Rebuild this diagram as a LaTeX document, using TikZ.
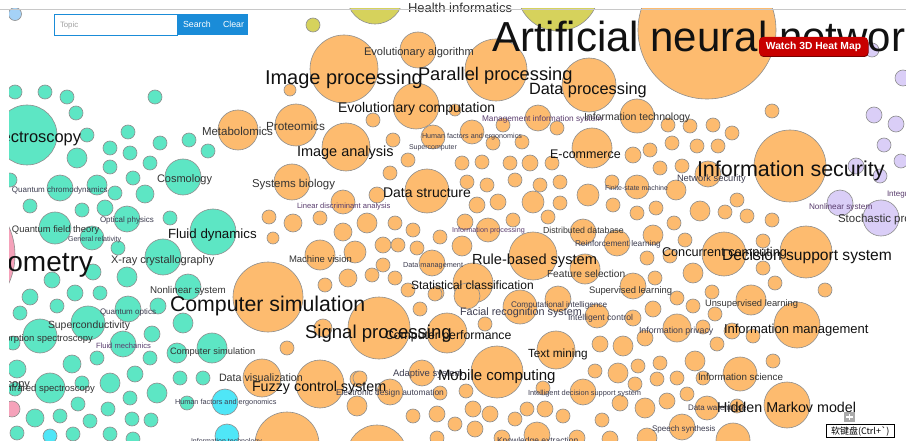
\documentclass[tikz,border=0pt]{standalone}
\usepackage{fontspec}
\setmainfont{Liberation Sans}
\newfontfamily\cjk{Noto Sans CJK SC}
\newcommand\myfs[1]{\fontsize{#1}{#1}\selectfont}
\definecolor{orng}{HTML}{FDBB6F}
\definecolor{tealc}{HTML}{5DE6C4}
\definecolor{yelc}{HTML}{D6D25C}
\definecolor{lavc}{HTML}{DACEF7}
\definecolor{pinkc}{HTML}{F5A2BA}
\definecolor{cyanc}{HTML}{4FE6F7}
\definecolor{bluec}{HTML}{A5D2F7}
\definecolor{strk}{HTML}{8E8E8E}
\definecolor{btnblue}{HTML}{1A8CD8}
\definecolor{btnred}{HTML}{C80000}
\definecolor{btnshadow}{HTML}{780000}
\definecolor{ruleg}{HTML}{C8C8C8}
\definecolor{placeg}{HTML}{A0A0A0}
\definecolor{plusg}{HTML}{AAAAAA}
\definecolor{tblack}{HTML}{111111}
\definecolor{tgray}{HTML}{333333}
\definecolor{tsmall}{HTML}{3D3D50}
\definecolor{tpurp}{HTML}{5A3D6E}
\tikzset{
  bub/.style={draw=strk, line width=0.6pt},
  lb/.style={anchor=base west, inner sep=0pt, outer sep=0pt},
  lr/.style={anchor=base east, inner sep=0pt, outer sep=0pt},
}
\newcommand\mylab[6]{\node[lb, text=#5, font=\myfs{#4}] (#1) at (#2,#3) {#6};}
\newcommand\mylabr[6]{\node[lr, text=#5, font=\myfs{#4}] (#1) at (#2,#3) {#6};}
\begin{document}
\begin{tikzpicture}[x=1pt,y=-1pt]
\useasboundingbox (0,0) rectangle (906,441);
\fill[white] (0,0) rectangle (906,441);
\begin{scope}
\clip (9,9) rectangle (906,441);
% yellow
\foreach \a/\b/\r in {375/-4/28, 558/-10/41, 313/25/7}
  \draw[bub, fill=yelc] (\a,\b) circle[radius={\r*1pt}];
% light blue
\draw[bub, fill=bluec] (15,14) circle[radius=6.5pt];
% pink
\foreach \a/\b/\r in {-53/255/68, 12/409/8}
  \draw[bub, fill=pinkc] (\a,\b) circle[radius={\r*1pt}];
% cyan
\foreach \a/\b/\r in {225/402/13, 227/436/12, 50/436/7}
  \draw[bub, fill=cyanc] (\a,\b) circle[radius={\r*1pt}];
% lavender
\foreach \a/\b/\r in {872/50/7, 903/78/8, 874/115/8, 896/124/8, 884/145/7, 901/161/7,
  856/166/8, 880/176/7, 840/203/13, 881/218/18}
  \draw[bub, fill=lavc] (\a,\b) circle[radius={\r*1pt}];
% teal
\foreach \a/\b/\r in {27/135/30, 183/177/18, 213/232/23, 163/257/18, 55/228/16, 127/219/13,
  92/238/12, 60/188/13, 188/287/13, 88/323/17, 40/336/17, 212/348/15, 128/309/13, 123/344/13,
  50/388/15, 183/323/10, 177/353/10, 110/383/10, 157/393/10, 127/277/10, 97/185/10, 77/158/10,
  15/92/7, 45/92/7, 67/97/7, 76/113/7, 155/97/7, 87/135/7, 128/132/7, 110/148/7, 160/143/7,
  189/140/7, 208/151/7, 130/153/7, 150/163/7, 110/167/7, 133/178/7, 115/193/7, 145/194/9,
  30/206/7, 82/210/7, 105/208/8, 170/218/7, 118/248/7, 93/272/8, 52/280/8, 75/293/8, 100/293/7,
  30/297/8, 10/180/7, 57/306/7, 20/313/7, 158/306/8, 152/334/8, 13/343/7, 97/358/7, 150/358/7,
  17/369/9, 72/364/9, 135/374/8, 180/378/7, 203/378/7, 82/383/7, 15/389/7, 130/398/7, 78/404/7,
  108/409/7, 60/416/7, 35/418/9, 90/421/7, 132/419/7, 151/420/7, 187/403/7, 17/433/7, 73/434/7,
  110/434/7, 133/439/7}
  \draw[bub, fill=tealc] (\a,\b) circle[radius={\r*1pt}];
% orange big
\foreach \a/\b/\r in {707/30/69, 344/69/34, 418/50/18, 496/70/31, 589/85/27, 416/106/23,
  238/130/20, 296/125/21, 346/147/24, 292/182/18, 427/191/22, 637/116/17, 592/148/20,
  790/166/36, 806/252/26, 724/254/22, 533/256/24, 473/283/20, 268/297/35, 379/328/31,
  447/333/20, 497/372/26, 556/350/19, 320/384/24, 262/378/19, 287/444/32, 377/455/30,
  787/405/23, 797/325/23, 740/374/17, 751/300/15, 677/328/14, 682/427/13, 733/440/17,
  320/255/15, 583/232/13, 617/243/13, 520/307/17, 708/174/13, 637/187/12, 422/373/13,
  390/392/13, 585/269/15, 633/286/13, 538/118/13, 433/137/12, 472/132/12, 488/230/12,
  432/263/13, 343/202/12, 355/252/11, 533/202/11, 588/195/11, 467/296/13, 558/299/13,
  597/316/12, 583/392/13, 537/435/13, 707/408/12, 676/190/10, 700/211/10, 653/235/10,
  693/273/10, 623/346/10, 695/361/10, 618/373/10, 645/408/10, 647/438/10, 357/406/10,
  367/223/10, 462/246/10, 348/278/9, 323/328/9, 293/223/9}
  \draw[bub, fill=orng] (\a,\b) circle[radius={\r*1pt}];
% orange small
\foreach \a/\b/\r in {290/90/6, 373/120/7, 455/110/6, 393/140/7, 493/143/7, 503/125/7,
  522/142/7, 557/128/7, 668/125/7, 690/126/7, 713/125/7, 732/133/7, 772/111/7, 672/143/7,
  697/146/7, 718/146/7, 650/150/7, 633/155/8, 408/160/7, 390/173/7, 377/195/8, 320/218/7,
  395/223/7, 343/232/9, 413/230/7, 440/237/7, 383/245/8, 398/245/7, 417/248/7, 383/265/7,
  372/275/7, 395/278/7, 325/285/7, 408/290/7, 437/293/7, 462/163/7, 482/162/7, 510/163/7,
  530/163/8, 552/163/7, 467/182/7, 487/185/7, 515/180/7, 540/185/7, 560/182/7, 477/205/8,
  498/202/8, 560/203/7, 465/222/8, 513/220/7, 548/217/7, 660/168/7, 682/166/7, 612/182/7,
  613/205/7, 637/213/7, 656/208/7, 725/212/7, 737/200/7, 747/216/7, 772/220/7, 674/223/7,
  685/240/7, 647/258/7, 670/256/7, 763/241/7, 763/268/7, 655/278/7, 712/292/7, 775/283/7,
  825/290/7, 677/298/7, 653/309/8, 693/306/7, 715/314/7, 633/318/8, 703/327/7, 645/338/8,
  732/331/8, 753/336/7, 600/344/8, 717/344/7, 660/363/7, 638/366/7, 677/378/7, 657/379/7,
  773/361/7, 703/378/7, 635/384/7, 687/394/7, 667/401/8, 620/403/8, 737/406/7, 610/439/8,
  602/420/7, 420/309/7, 435/294/7, 485/324/7, 595/371/7, 358/379/8, 440/393/7, 413/416/7,
  437/414/8, 455/424/7, 473/409/8, 490/414/8, 475/429/8, 515/419/7, 527/409/7, 545/409/8,
  563/416/7, 577/438/8, 502/438/8, 437/438/7, 360/378/7, 466/391/7, 543/388/7, 269/217/7,
  273/238/6, 287/348/7}
  \draw[bub, fill=orng] (\a,\b) circle[radius={\r*1pt}];
% ---- labels: small
\mylab{s1}{482}{122}{8.3}{tpurp}{Management information system}
\mylab{s2}{422}{139}{7.2}{tsmall}{Human factors and ergonomics}
\mylab{s3}{409}{150}{7}{tsmall}{Supercomputer}
\mylab{s4}{297}{209}{7.6}{tpurp}{Linear discriminant analysis}
\mylab{s5}{452}{233}{7.2}{tpurp}{Information processing}
\mylab{s6}{575}{247}{8.3}{tsmall}{Reinforcement learning}
\mylab{s7}{403}{267}{7.3}{tsmall}{Data management}
\mylab{s8}{605}{191}{7}{tsmall}{Finite-state machine}
\mylab{s9}{809}{210}{8.2}{tpurp}{Nonlinear system}
\mylab{s10}{887}{197}{8}{tpurp}{Integral equation}
\mylab{s11}{568}{320}{8.6}{tsmall}{Intelligent control}
\mylab{s12}{511}{307}{8.2}{tsmall}{Computational intelligence}
\mylab{s13}{639}{333}{8.8}{tsmall}{Information privacy}
\mylab{s14}{688}{410}{8}{tsmall}{Data warehouse}
\mylab{s15}{652}{431}{8.1}{tsmall}{Speech synthesis}
\mylab{s16}{528}{395}{7.4}{tsmall}{Intelligent decision support system}
\mylab{s17}{393}{376}{9.5}{tsmall}{Adaptive system}
\mylab{s18}{336}{395}{8.4}{tsmall}{Electronic design automation}
\mylab{s19}{497}{443}{8.5}{tsmall}{Knowledge extraction}
\mylab{s20}{175}{404}{7.3}{tsmall}{Human factors and ergonomics}
\mylab{s21}{191}{443}{7}{tsmall}{Information technology}
\mylab{s22}{12}{193}{8}{tsmall}{Quantum chromodynamics}
\mylab{s23}{100}{223}{8}{tsmall}{Optical physics}
\mylab{s24}{68}{242}{7.1}{tsmall}{General relativity}
\mylab{s25}{100}{314}{8}{tsmall}{Quantum optics}
\mylab{s26}{96}{348}{7.6}{tpurp}{Fluid mechanics}
% ---- labels: medium
\mylab{m1}{364}{56}{11.1}{tgray}{Evolutionary algorithm}
\mylab{m2}{202}{136}{11.5}{tgray}{Metabolomics}
\mylab{m3}{266}{131}{11.8}{tgray}{Proteomics}
\mylab{m4}{252}{188}{11.4}{tgray}{Systems biology}
\mylab{m5}{584}{121}{10.5}{tgray}{Information technology}
\mylab{m6}{289}{262}{9.5}{tgray}{Machine vision}
\mylab{m7}{547}{277}{10.2}{tgray}{Feature selection}
\mylab{m8}{589}{293}{9.4}{tgray}{Supervised learning}
\mylab{m9}{460}{315}{10.8}{tsmall}{Facial recognition system}
\mylab{m10}{705}{306}{9.35}{tgray}{Unsupervised learning}
\mylab{m11}{698}{380}{9.8}{tgray}{Information science}
\mylab{m12}{219}{381}{10.7}{tgray}{Data visualization}
\mylab{m13}{677}{182}{9.3}{tsmall}{Network security}
\mylab{m14}{543}{234}{8.8}{tgray}{Distributed database}
\mylab{m15}{838}{223}{11.5}{tgray}{Stochastic process}
\mylab{m16}{157}{183}{11}{tgray}{Cosmology}
\mylab{m17}{12}{233}{9.4}{tgray}{Quantum field theory}
\mylab{m18}{111}{263}{11}{tgray}{X-ray crystallography}
\mylab{m19}{150}{293}{9.8}{tgray}{Nonlinear system}
\mylab{m20}{48}{328}{10.4}{tgray}{Superconductivity}
\mylabr{m21}{93}{341}{9.5}{tgray}{Absorption spectroscopy}
\mylab{m22}{170}{354}{9.3}{tgray}{Computer simulation}
\mylabr{m23}{30}{387}{11}{tgray}{Raman spectroscopy}
\mylabr{m24}{95}{391}{9.5}{tgray}{Infrared spectroscopy}
% ---- labels: large
\mylab{b1}{265}{85}{20}{tblack}{Image processing}
\mylab{b2}{418}{81}{18.3}{tblack}{Parallel processing}
\mylab{b3}{529}{95}{16.3}{tblack}{Data processing}
\mylab{b4}{338}{113}{14}{tblack}{Evolutionary computation}
\mylab{b5}{297}{157}{14.5}{tblack}{Image analysis}
\mylab{b6}{383}{198}{14}{tblack}{Data structure}
\mylab{b7}{550}{159}{12.5}{tblack}{E-commerce}
\mylab{b8}{697}{177}{21.5}{tblack}{Information security}
\mylab{b9}{662}{257}{12.7}{tblack}{Concurrent computing}
\mylab{b10}{722}{261}{15.6}{tblack}{Decision support system}
\mylab{b11}{472}{265}{14.6}{tblack}{Rule-based system}
\mylab{b12}{411}{289}{12}{tblack}{Statistical classification}
\mylab{b13}{170}{312}{21.3}{tblack}{Computer simulation}
\mylab{b14}{385}{339}{12.3}{tblack}{Computer performance}
\mylab{b15}{305}{338}{18.6}{tblack}{Signal processing}
\mylab{b16}{438}{380}{15}{tblack}{Mobile computing}
\mylab{b17}{528}{357}{11.8}{tblack}{Text mining}
\mylab{b18}{252}{391}{14.3}{tblack}{Fuzzy control system}
\mylab{b19}{717}{412}{14.3}{tblack}{Hidden Markov model}
\mylab{b20}{724}{333}{13}{tblack}{Information management}
\mylab{b21}{168}{239}{13.3}{tblack}{Fluid dynamics}
\mylabr{b22}{81}{143}{16.4}{tblack}{Spectroscopy}
\mylabr{b23}{93}{272}{28}{tblack}{Mass spectrometry}
\mylab{b24}{492}{52}{42}{tblack}{Artificial neural network}
\end{scope}
\mylab{h1}{408}{13}{13}{tgray}{Health informatics}
% top rule
\draw[draw=ruleg, line width=0.8pt] (0,9) -- (906,9);
% search box
\draw[draw=btnblue, fill=white, line width=0.9pt] (54.5,14.5) rectangle (177,35);
\fill[btnblue] (177,14) rectangle (248,35.5);
\node[lb, text=placeg, font=\myfs{7.8}] (topic) at (60,27.5) {Topic};
\node[lb, text=white, font=\myfs{8.8}] (search) at (183,28) {Search};
\node[lb, text=white, font=\myfs{8.8}] (clear) at (223,28) {Clear};
% heat map button
\fill[btnshadow, rounded corners=4pt] (759.5,38.5) rectangle (868.5,57);
\fill[btnred, rounded corners=4pt] (759,37) rectangle (868,56);
\node[anchor=base, inner sep=0pt, text=white, font=\myfs{10.3}\bfseries] (heat) at (813.5,49.5) {Watch 3D Heat Map};
% plus icon and keyboard box
\fill[plusg] (844,412) rectangle (855,422);
\draw[white, line width=1.6pt] (849.5,413.8) -- (849.5,420.2) (846.3,417) -- (852.7,417);
\node[draw=black, fill=white, line width=0.6pt, inner sep=0pt, minimum width=68pt, minimum height=12.5pt, anchor=west, font=\cjk\myfs{9}] (kb) at (826,431) {软键盘(Ctrl+\char"60 )};
\end{tikzpicture}
\end{document}
